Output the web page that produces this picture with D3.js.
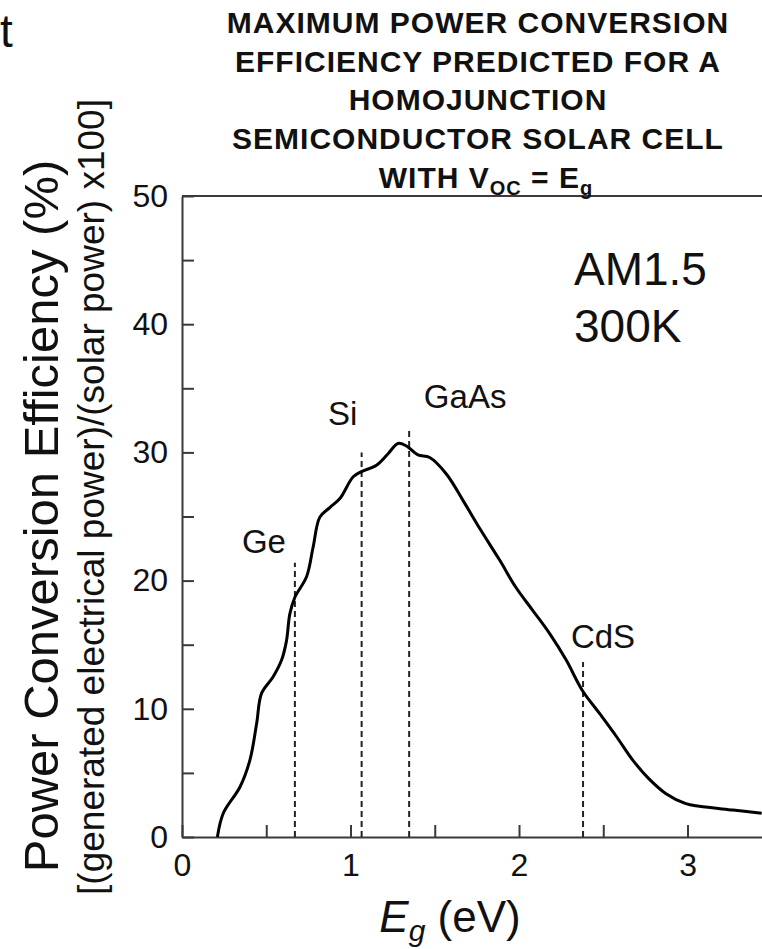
<!DOCTYPE html>
<html>
<head>
<meta charset="utf-8">
<script src="https://cdn.jsdelivr.net/npm/d3@7"></script>
<style>
	body { margin: 0; background: #fff; }
	svg { display: block; font-family: "Liberation Sans", Arial, Helvetica, sans-serif; }
</style>
</head>
<body>
<div id="chart"></div>
<script>
const WIDTH = 762, HEIGHT = 949

// band gap (eV) vs. max efficiency (%)
const bandGap = [0.21, 0.245, 0.344, 0.403, 0.443, 0.472, 0.541, 0.591, 0.62, 0.64, 0.67, 0.739, 0.778, 0.818, 0.877, 0.937, 1.016, 1.065, 1.154, 1.223, 1.282, 1.332, 1.40, 1.47, 1.57, 1.67, 1.77, 1.885, 1.98, 2.08, 2.18, 2.28, 2.375, 2.48, 2.58, 2.675, 2.77, 2.87, 2.99, 3.07, 3.27, 3.44]
const efficiency = [0, 1.85, 3.9, 6.0, 8.85, 11.2, 12.5, 13.8, 15.3, 17.4, 18.7, 20.3, 22.6, 24.95, 25.7, 26.4, 28.1, 28.5, 29.0, 29.9, 30.7, 30.5, 29.8, 29.6, 28.3, 26.2, 24.0, 21.6, 19.5, 17.7, 15.9, 13.8, 11.45, 9.6, 7.8, 6.0, 4.55, 3.4, 2.6, 2.4, 2.1, 1.85]

// semiconductor markers
const materials = ["Ge", "Si", "GaAs", "CdS"]
const materialGap = [0.67, 1.066, 1.348, 2.38]
const markerTop = [21.4, 30.0, 31.9, 13.65]

const xTicks = [0, 0.5, 1, 1.5, 2, 2.5, 3]
const yTicks = [0, 5, 10, 15, 20, 25, 30, 35, 40, 45, 50]

const titleLines = ["MAXIMUM POWER CONVERSION", "EFFICIENCY PREDICTED FOR A", "HOMOJUNCTION", "SEMICONDUCTOR SOLAR CELL"]

const svg = d3.select("#chart")
	.append("svg")
		.attr("width", WIDTH)
		.attr("height", HEIGHT)

// x: eV
const x = d3.scaleLinear()
	.domain([0, 3.442])
	.range([182, 762])

// y: percent
const y = d3.scaleLinear()
	.domain([0, 50])
	.range([837, 196])

const AXIS_COLOR = "#3a3a3a"

// axes, ticks point inward
const xAxis = d3.axisBottom(x)
	.tickValues(xTicks)
	.tickSizeInner(-12)
	.tickSizeOuter(0)
	.tickPadding(16)
	.tickFormat(d => Number.isInteger(d) ? d : "")

const yAxis = d3.axisLeft(y)
	.tickValues(yTicks)
	.tickSizeInner(-12)
	.tickSizeOuter(0)
	.tickPadding(14)
	.tickFormat(d => d % 10 === 0 ? d : "")

const gx = svg.append("g")
	.attr("transform", `translate(0, ${y(0)})`)
	.call(xAxis)

const gy = svg.append("g")
	.attr("transform", `translate(${x(0)}, 0)`)
	.call(yAxis)

for (const g of [gx, gy]) {
	g.select(".domain").attr("stroke", AXIS_COLOR).attr("stroke-width", 2)
	g.selectAll(".tick line").attr("stroke", AXIS_COLOR).attr("stroke-width", 2)
	g.selectAll(".tick text")
		.attr("font-size", 32)
		.attr("font-family", "Liberation Sans, Arial, sans-serif")
		.attr("fill", "#111")
}

// top frame
svg.append("line")
	.attr("x1", x(0)).attr("x2", x(x.domain()[1]))
	.attr("y1", y(50)).attr("y2", y(50))
	.attr("stroke", AXIS_COLOR)
	.attr("stroke-width", 2)

// dashed band-gap markers
svg.selectAll(".marker")
	.data(materials)
	.enter().append("line")
	.attr("class", "marker")
	.attr("x1", (d, i) => x(materialGap[i]))
	.attr("x2", (d, i) => x(materialGap[i]))
	.attr("y1", y(0))
	.attr("y2", (d, i) => y(markerTop[i]))
	.attr("stroke", "#222")
	.attr("stroke-width", 2)
	.attr("stroke-dasharray", "6,4")

// label nudges from marker top, px
const labelNudge = [[-31, -10], [-19, -27], [56, -20], [20, -14]]

svg.selectAll(".mat-label")
	.data(materials)
	.enter().append("text")
	.attr("class", "mat-label")
	.attr("x", (d, i) => x(materialGap[i]) + labelNudge[i][0])
	.attr("y", (d, i) => y(markerTop[i]) + labelNudge[i][1])
	.attr("text-anchor", "middle")
	.attr("font-size", 33)
	.attr("fill", "#111")
	.text(d => d)

// efficiency curve
const pts = bandGap.map((e, i) => [e, efficiency[i]])
const line = d3.line()
	.x(d => x(d[0]))
	.y(d => y(d[1]))
	.curve(d3.curveCatmullRom.alpha(0.5))

svg.append("path")
	.datum(pts)
	.attr("d", line)
	.attr("fill", "none")
	.attr("stroke", "#000")
	.attr("stroke-width", 3)
	.attr("stroke-linejoin", "round")

// AM1.5 / 300K
svg.append("text").attr("x", 574).attr("y", 285).attr("font-size", 46).attr("fill", "#111").text("AM1.5")
svg.append("text").attr("x", 574).attr("y", 342).attr("font-size", 46).attr("fill", "#111").text("300K")

// title
const title = svg.append("g")
	.attr("font-weight", "bold")
	.attr("font-size", 30)
	.attr("letter-spacing", 1)
	.attr("text-anchor", "middle")
	.attr("fill", "#111")

title.selectAll("text.tl")
	.data(titleLines)
	.enter().append("text")
	.attr("class", "tl")
	.attr("x", 478)
	.attr("y", (d, i) => 33 + i * 38.7)
	.text(d => d)

const last = title.append("text").attr("x", 486).attr("y", 188)
last.append("tspan").text("WITH V")
last.append("tspan").attr("font-size", 20).attr("dy", 7).text("OC")
last.append("tspan").attr("dy", -7).text(" = E")
last.append("tspan").attr("font-size", 20).attr("dy", 7).text("g")

// axis titles
const xt = svg.append("text")
	.attr("x", 450).attr("y", 932)
	.attr("text-anchor", "middle")
	.attr("font-size", 44)
	.attr("fill", "#111")
xt.append("tspan").attr("font-style", "italic").text("E")
xt.append("tspan").attr("font-style", "italic").attr("font-size", 30).attr("dy", 9).text("g")
xt.append("tspan").attr("dy", -9).text(" (eV)")

svg.append("text")
	.attr("transform", "translate(58, 516) rotate(-90)")
	.attr("text-anchor", "middle")
	.attr("font-size", 49)
	.attr("fill", "#111")
	.text("Power Conversion Efficiency (%)")

svg.append("text")
	.attr("transform", "translate(104, 497) rotate(-90)")
	.attr("text-anchor", "middle")
	.attr("font-size", 37)
	.attr("fill", "#111")
	.text("[(generated electrical power)/(solar power) x100]")

// stray letter at the page edge
svg.append("text").attr("x", 0).attr("y", 47).attr("font-size", 46).attr("fill", "#111").text("t")
</script>
</body>
</html>
